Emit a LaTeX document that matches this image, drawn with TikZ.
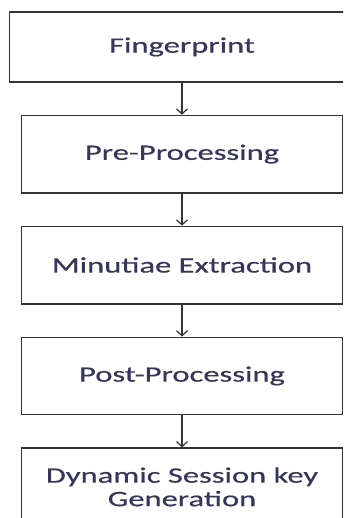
\documentclass[tikz,border=0pt]{standalone}
\usepackage{fontspec}
\newfontfamily\boxfont[FakeStretch=1.48,FakeBold=0.5]{Carlito}
\usetikzlibrary{positioning,arrows.meta}
\definecolor{figLine}{HTML}{333333}
\definecolor{figInk}{HTML}{36365A}

\begin{document}
\begin{tikzpicture}[x=1pt,y=1pt,
    stage/.style={draw=figLine,line width=1.4pt,minimum width=321pt,minimum height=77.5pt,inner sep=0pt,
      text=figInk,font=\boxfont\fontsize{22}{23.5}\selectfont,align=center},
    flow/.style={draw=figLine,line width=1.2pt,-{Straight Barb[length=5pt,width=11pt]}}]
    \useasboundingbox (0,0) rectangle (343,-518);
    \clip (0,0) rectangle (343,-518);
    % stages, top to bottom (first and last run off the page)
    \node[stage,minimum width=345pt,minimum height=70pt] (fp) at (182,-47) {Fingerprint};
    \node[stage,below=32pt of fp] (pre) {Pre-Processing};
    \node[stage,below=32pt of pre] (mex) {Minutiae Extraction};
    \node[stage,below=32pt of mex] (post) {Post-Processing};
    \node[stage,below=32pt of post] (key) {Dynamic Session key\\Generation};
    % arrows between stages
    \draw[flow] (fp) -- (pre);
    \draw[flow] (pre) -- (mex);
    \draw[flow] (mex) -- (post);
    \draw[flow] (post) -- (key);
\end{tikzpicture}
\end{document}
